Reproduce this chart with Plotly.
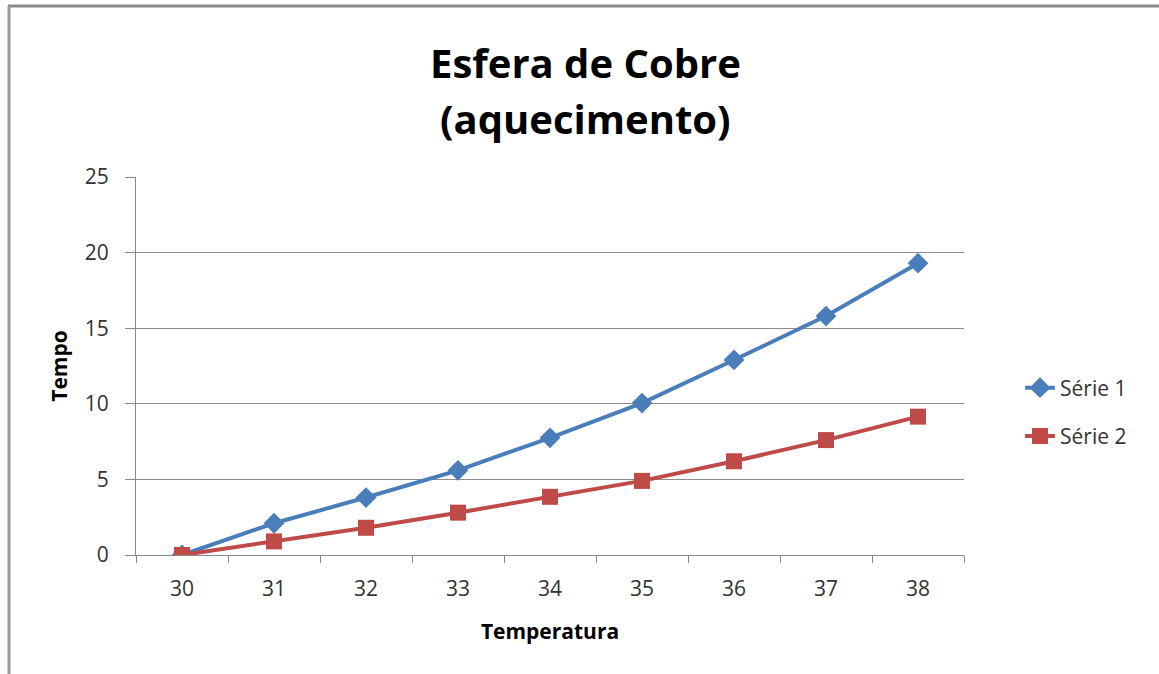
import plotly.graph_objects as go

categories = ["30", "31", "32", "33", "34", "35", "36", "37", "38"]
serie1 = [0, 2.1, 3.8, 5.6, 7.75, 10.05, 12.9, 15.8, 19.3]
serie2 = [0, 0.9, 1.8, 2.8, 3.85, 4.9, 6.2, 7.6, 9.15]
series_names = ["Série 1", "Série 2"]
title_lines = ["Esfera de Cobre", "(aquecimento)"]

W, H = 1159, 674
L, R, T, B = 136, 964, 177, 555

FONT = "Open Sans"


def px(x):
    return (x - L) / (R - L)


def py(y):
    return (B - y) / (B - T)


fig = go.Figure()
fig.add_trace(go.Scatter(
    x=categories, y=serie1, name=series_names[0], mode="lines+markers",
    line=dict(color="#4A7EBB", width=4),
    marker=dict(symbol="diamond", size=16, color="#4A7EBB"),
    legendgroup="a",
))
fig.add_trace(go.Scatter(
    x=categories, y=serie2, name=series_names[1], mode="lines+markers",
    line=dict(color="#BE4B48", width=4),
    marker=dict(symbol="square", size=16, color="#BE4B48"),
    legendgroup="b",
))

annotations = [
    dict(text=title_lines[0], xref="paper", yref="paper", x=px(585), y=py(62),
         xanchor="center", yanchor="middle", showarrow=False,
         font=dict(family=FONT, size=40, color="#000000", weight="bold")),
    dict(text=title_lines[1], xref="paper", yref="paper", x=px(585), y=py(118),
         xanchor="center", yanchor="middle", showarrow=False,
         font=dict(family=FONT, size=40, color="#000000", weight="bold")),
]

fig.update_layout(
    width=W, height=H,
    margin=dict(l=L, r=W - R, t=T, b=H - B, autoexpand=False),
    paper_bgcolor="white", plot_bgcolor="white",
    font=dict(family=FONT, color="#333333"),
    xaxis=dict(
        type="category", range=[-0.5, 8.5],
        tickson="boundaries", ticks="outside", ticklen=7, tickcolor="#888888",
        showline=True, linecolor="#888888", linewidth=1,
        showgrid=False, zeroline=False,
        tickfont=dict(family=FONT, size=21, color="#333333"),
        ticklabelstandoff=15,
        title=dict(text="<b>Temperatura</b>", font=dict(family=FONT, size=21, color="#000000"), standoff=23),
    ),
    yaxis=dict(
        range=[0, 25], dtick=5, tick0=0,
        ticks="outside", ticklen=10, tickcolor="#888888",
        showline=True, linecolor="#888888", linewidth=1,
        showgrid=True, gridcolor="#8c8c8c", gridwidth=1, zeroline=False,
        tickfont=dict(family=FONT, size=21, color="#333333"),
        ticklabelstandoff=12,
        title=dict(text="<b>Tempo</b>", font=dict(family=FONT, size=21, color="#000000"), standoff=11),
    ),
    legend=dict(
        xref="container", yref="container",
        x=1020 / W, y=1 - 412 / H, xanchor="left", yanchor="middle",
        font=dict(family=FONT, size=21, color="#333333"),
        tracegroupgap=18, traceorder="grouped",
        bgcolor="rgba(0,0,0,0)",
    ),
    showlegend=True,
    annotations=annotations,
    shapes=[
        dict(type="line", xref="paper", yref="paper",
             x0=px(8), x1=px(W), y0=py(6), y1=py(6),
             line=dict(color="#8a8a8a", width=3)),
        dict(type="line", xref="paper", yref="paper",
             x0=px(9), x1=px(9), y0=py(6), y1=py(H),
             line=dict(color="#9a9a9a", width=3)),
    ],
)

fig.write_html(
    "out.html",
    config={"displayModeBar": False},
    post_script="document.body.style.margin='0';document.body.style.padding='0';",
)
